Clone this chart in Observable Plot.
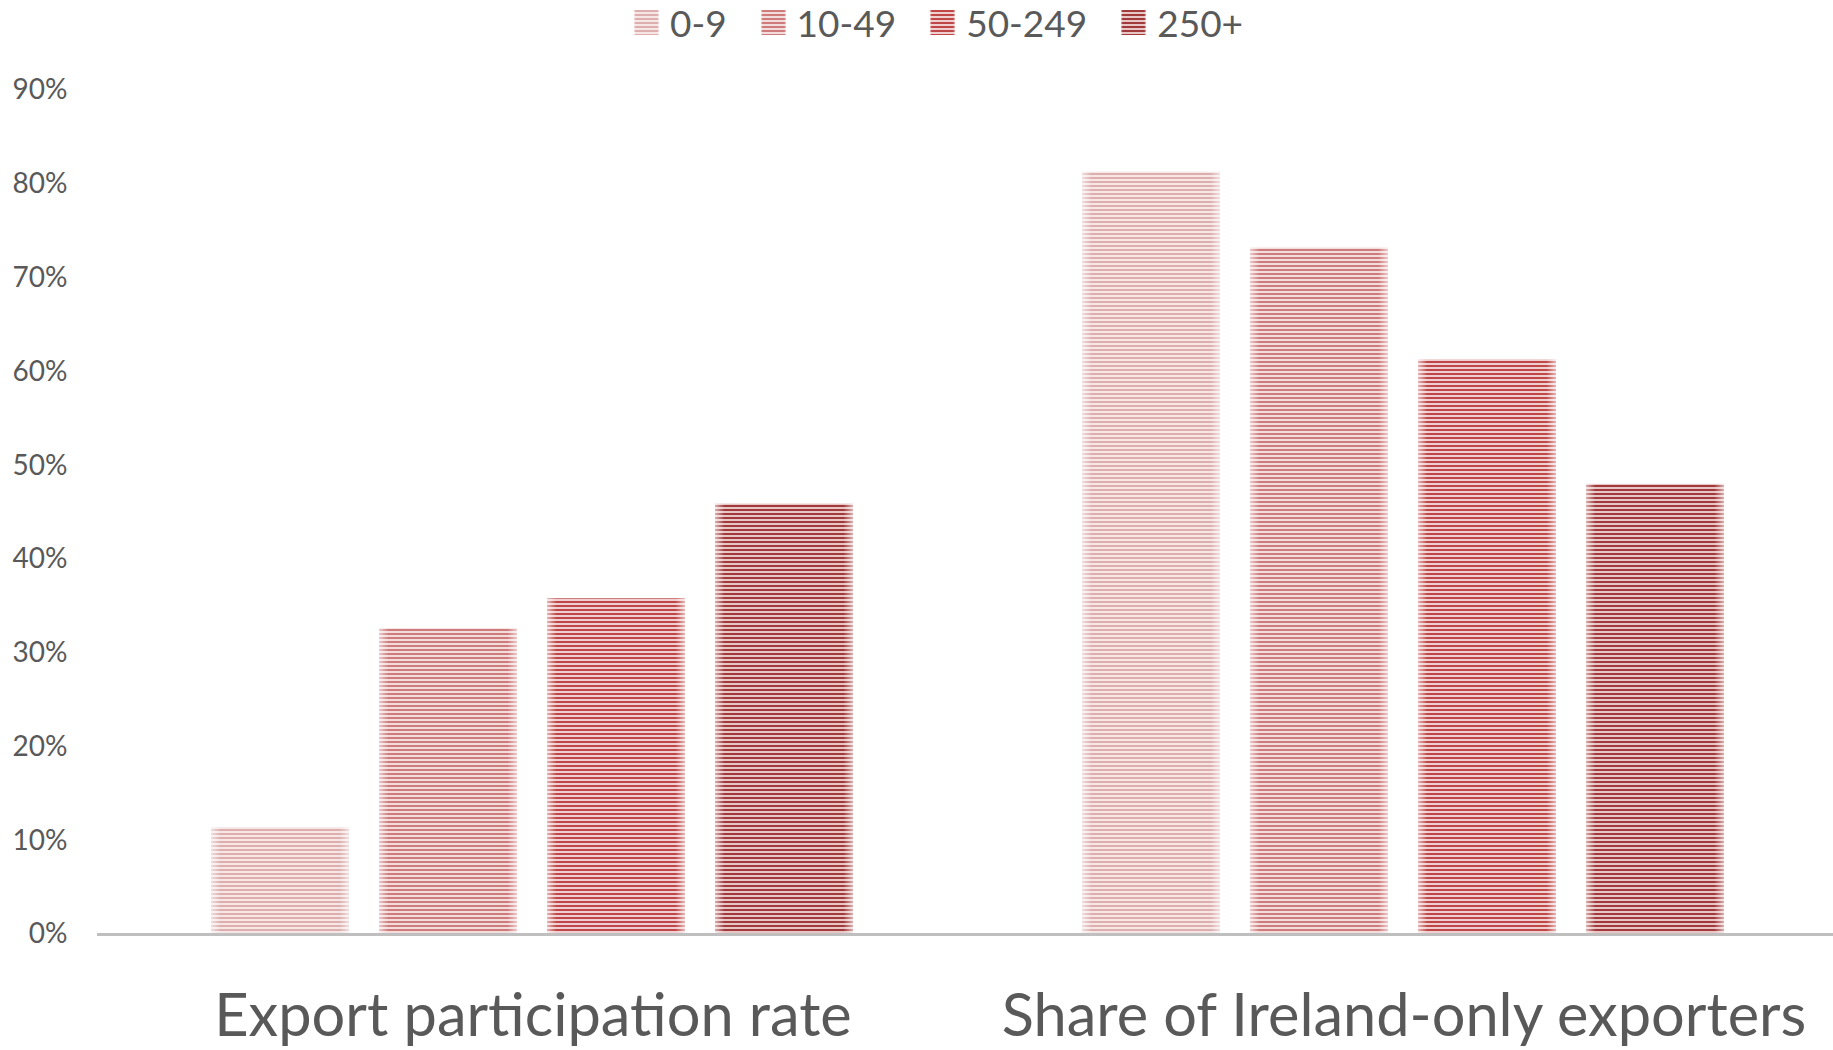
<!DOCTYPE html>
<html><head><meta charset="utf-8">
<script src="https://cdn.jsdelivr.net/npm/d3@7"></script>
<script src="https://cdn.jsdelivr.net/npm/@observablehq/plot@0.6"></script>
<style>
body{margin:0;background:#fff;font-family:Lato, sans-serif;}
#defs{position:absolute;width:0;height:0;overflow:hidden;}
#legend{height:45px;display:flex;justify-content:center;align-items:center;gap:34px;padding-left:44px;color:#595959;font-size:37px;line-height:45px;}
.item{display:flex;align-items:center;gap:11px;}
.item svg{display:block;}
</style></head><body>
<svg id="defs" width="0" height="0"><defs id="defsInner"></defs></svg>
<div id="legend"></div><div id="chart"></div>
<script>
const groups = ["Export participation rate", "Share of Ireland-only exporters"];
const sizes = ["0-9", "10-49", "50-249", "250+"];
const exportRate = [11.4, 32.6, 35.8, 45.9];
const irelandOnly = [81.3, 73.2, 61.3, 48.0];
const yTicks = [0, 10, 20, 30, 40, 50, 60, 70, 80, 90];
const stripeDark = ["#dcaeae", "#cf7b7b", "#c04747", "#a13a3a"];
const stripeLight = ["#f6e6e6", "#f3dcdc", "#efcfcf", "#e9c6c6"];

const data = [];
sizes.forEach((s, i) => data.push({group: groups[0], size: s, value: exportRate[i]}));
sizes.forEach((s, i) => data.push({group: groups[1], size: s, value: irelandOnly[i]}));

// pattern definitions
const defs = d3.select("#defsInner");
sizes.forEach((s, i) => {
  const p = defs.append("pattern").attr("id", "pat" + i)
    .attr("patternUnits", "userSpaceOnUse").attr("width", 8).attr("height", 4);
  p.append("rect").attr("width", 8).attr("height", 4).attr("fill", stripeLight[i]);
  p.append("rect").attr("width", 8).attr("height", 2).attr("fill", stripeDark[i]);
});
const g = defs.append("linearGradient").attr("id", "vig").attr("x1", 0).attr("x2", 1).attr("y1", 0).attr("y2", 0);
[[0, 0.6], [0.07, 0], [0.93, 0], [1, 0.6]].forEach(([o, a]) =>
  g.append("stop").attr("offset", o).attr("stop-color", "#fff").attr("stop-opacity", a));

// legend
const legend = d3.select("#legend");
sizes.forEach((s, i) => {
  const it = legend.append("div").attr("class", "item");
  const sv = it.append("svg").attr("width", 25).attr("height", 25);
  sv.append("rect").attr("width", 25).attr("height", 25).attr("fill", `url(#pat${i})`);
  sv.append("rect").attr("width", 25).attr("height", 25).attr("fill", "url(#vig)");
  it.append("span").text(s);
});

const chart = Plot.plot({
  width: 1833, height: 1005,
  marginLeft: 96, marginRight: 0, marginTop: 45, marginBottom: 116,
  style: {fontFamily: "Lato, sans-serif", color: "#595959", background: "#fff", overflow: "visible"},
  fx: {domain: groups, padding: 0, range: [96, 1839]},
  x: {domain: sizes, paddingInner: 0.178, paddingOuter: 0.678, axis: null},
  y: {domain: [0, 90]},
  color: {domain: sizes, range: sizes.map((s, i) => `url(#pat${i})`)},
  marks: [
    Plot.barY(data, {fx: "group", x: "size", y: "value", fill: "size"}),
    Plot.barY(data, {fx: "group", x: "size", y: "value", fill: "url(#vig)"}),
    Plot.ruleY([0], {stroke: "#bfbfbf", strokeWidth: 3}),
    Plot.axisY({ticks: yTicks, tickFormat: d => d + "%", tickSize: 0, tickPadding: 30, fontSize: 28, label: null, facetAnchor: "left", fill: "#595959"}),
    Plot.axisFx({anchor: "bottom", tickSize: 0, tickPadding: 59, fontSize: 59.5, label: null, fill: "#595959"})
  ]
});
document.getElementById("chart").appendChild(chart);
</script>
</body></html>
